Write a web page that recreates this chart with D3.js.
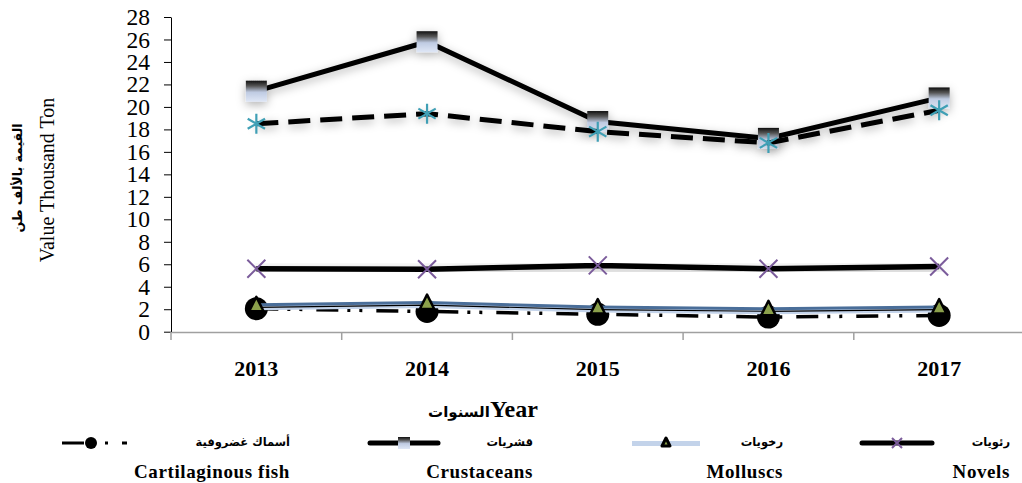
<!DOCTYPE html>
<html><head><meta charset="utf-8">
<script src="https://cdn.jsdelivr.net/npm/d3@7"></script>
<style>body{margin:0;background:#fff}svg{display:block}</style>
</head><body>
<script>
// ---- data ----
const years = ["2013", "2014", "2015", "2016", "2017"];
const yTicks = [0, 2, 4, 6, 8, 10, 12, 14, 16, 18, 20, 22, 24, 26, 28];
const crustaceans = [21.4, 25.8, 18.7, 17.2, 20.8];
const starSeries = [18.5, 19.4, 17.8, 16.8, 19.7];
const novels = [5.6, 5.55, 5.9, 5.6, 5.8];
const molluscs = [2.3, 2.5, 2.1, 1.95, 2.1];
const cartilaginous = [2.05, 1.8, 1.55, 1.3, 1.45];
const legendAr = ["أسماك غضروفية", "قشريات", "رخويات", "رئويات"];
const legendEn = ["Cartilaginous fish", "Crustaceans", "Molluscs", "Novels"];

const W = 1022, H = 483;
const svg = d3.select("body").append("svg").attr("width", W).attr("height", H);
const serif = "'Liberation Serif','DejaVu Serif',serif";
const arab = "'DejaVu Sans',sans-serif";

const defs = svg.append("defs");
const sq = defs.append("linearGradient").attr("id", "sqGrad").attr("x1", 0).attr("y1", 0).attr("x2", 0).attr("y2", 1);
sq.append("stop").attr("offset", "0%").attr("stop-color", "#111");
sq.append("stop").attr("offset", "25%").attr("stop-color", "#555");
sq.append("stop").attr("offset", "55%").attr("stop-color", "#bfcbe2");
sq.append("stop").attr("offset", "100%").attr("stop-color", "#dfe7f6");
const lg = defs.append("linearGradient").attr("id", "molGrad").attr("x1", 0).attr("y1", 0).attr("x2", 1).attr("y2", 0);
lg.append("stop").attr("offset", "0%").attr("stop-color", "#3d5f8c");
lg.append("stop").attr("offset", "50%").attr("stop-color", "#9fb5d6");
lg.append("stop").attr("offset", "100%").attr("stop-color", "#3d5f8c");
const f = defs.append("filter").attr("id", "shadow").attr("x", "-20%").attr("y", "-50%").attr("width", "140%").attr("height", "200%");
f.append("feDropShadow").attr("dx", 0).attr("dy", 3).attr("stdDeviation", 5).attr("flood-color", "#000").attr("flood-opacity", 0.3);

const x = d3.scaleBand().domain(years).range([171, 1024.5]);
const y = d3.scaleLinear().domain([0, 28]).range([331.7, 17]);
const cx = d => x(d) + x.bandwidth() / 2;

// y axis
const ya = svg.append("g").attr("transform", "translate(171,0)")
  .call(d3.axisLeft(y).tickValues(yTicks).tickSize(7).tickPadding(14).tickSizeOuter(0));
ya.select(".domain").attr("stroke", "#000");
ya.selectAll(".tick line").attr("stroke", "#000");
ya.selectAll("text").attr("font-family", serif).attr("font-size", 23.5).attr("fill", "#000");

// x axis
const xa = svg.append("g").attr("transform", "translate(0,332)")
  .call(d3.axisBottom(x).tickSize(0).tickPadding(28));
xa.select(".domain").attr("stroke", "#a0a0a0").attr("stroke-width", 1.5);
xa.selectAll("text").attr("font-family", serif).attr("font-size", 22).attr("font-weight", "bold").attr("fill", "#000");
svg.append("g").selectAll("line").data(years.concat(["end"])).join("line")
  .attr("x1", (d, i) => i < years.length ? x(d) : x.range()[1])
  .attr("x2", (d, i) => i < years.length ? x(d) : x.range()[1])
  .attr("y1", 332).attr("y2", 340).attr("stroke", "#a0a0a0").attr("stroke-width", 1.5);

// titles
const xt = svg.append("text").attr("x", 483).attr("y", 417).attr("text-anchor", "middle")
  .attr("font-weight", "bold").attr("direction", "ltr");
xt.append("tspan").attr("font-family", arab).attr("font-size", 15).text("السنوات");
xt.append("tspan").attr("font-family", serif).attr("font-size", 24).text("Year");
svg.append("text").attr("transform", "translate(22,178) rotate(-90)").attr("text-anchor", "middle")
  .attr("font-family", arab).attr("font-size", 12.5).attr("font-weight", "bold").text("القيمة بالألف طن");
svg.append("text").attr("transform", "translate(54,180) rotate(-90)").attr("text-anchor", "middle")
  .attr("font-family", serif).attr("font-size", 20).text("Value Thousand Ton");

const line = d3.line().x((d, i) => cx(years[i])).y(d => y(d));
const plot = svg.append("g");

// marker drawers
function circleM(g, px, py, r) { g.append("circle").attr("cx", px).attr("cy", py).attr("r", r).attr("fill", "#000"); }
function triM(g, px, py, s, sw) {
  g.append("path").attr("d", `M${px},${py - s}L${px + s * 0.8},${py + s * 0.6}L${px - s * 0.8},${py + s * 0.6}Z`)
    .attr("fill", "#8ba04b").attr("stroke", "#000").attr("stroke-width", sw).attr("stroke-linejoin", "round");
}
function xM(g, px, py, s, c) {
  g.append("path").attr("d", `M${px - s},${py - s}L${px + s},${py + s}M${px - s},${py + s}L${px + s},${py - s}`)
    .attr("stroke", c).attr("stroke-width", 2);
}
function starM(g, px, py, s) {
  const a = s * Math.cos(Math.PI / 6), b = s * Math.sin(Math.PI / 6);
  g.append("path").attr("d", `M${px},${py - s}L${px},${py + s}M${px - a},${py - b}L${px + a},${py + b}M${px - a},${py + b}L${px + a},${py - b}`)
    .attr("stroke", "#3f9fb5").attr("stroke-width", 2.2);
}
function sqM(g, px, py, s) {
  g.append("rect").attr("x", px - s / 2).attr("y", py - s / 2).attr("width", s).attr("height", s).attr("fill", "url(#sqGrad)");
}

// cartilaginous fish
plot.append("path").datum(cartilaginous).attr("d", line).attr("fill", "none")
  .attr("stroke", "#000").attr("stroke-width", 3.5).attr("stroke-dasharray", "22,9,3,9,3,14");
cartilaginous.forEach((v, i) => circleM(plot, cx(years[i]), y(v), 11.5));

// molluscs
plot.append("path").datum(molluscs).attr("d", line).attr("fill", "none")
  .attr("stroke", "#c3d3ea").attr("stroke-width", 6).attr("transform", "translate(0,1.5)");
plot.append("path").datum(molluscs).attr("d", line).attr("fill", "none")
  .attr("stroke", "#4a6e99").attr("stroke-width", 3).attr("transform", "translate(0,-1)");
plot.append("path").datum(molluscs).attr("d", line).attr("fill", "none")
  .attr("stroke", "#000").attr("stroke-width", 1.2).attr("transform", "translate(0,1.5)");
molluscs.forEach((v, i) => triM(plot, cx(years[i]), y(v), 9, 2.5));

// novels
const gN = plot.append("g").attr("filter", "url(#shadow)");
gN.append("path").datum(novels).attr("d", line).attr("fill", "none")
  .attr("stroke", "#000").attr("stroke-width", 5.5);
novels.forEach((v, i) => xM(plot, cx(years[i]), y(v), 9, "#7b5c9b"));

// crustaceans
const gC = plot.append("g").attr("filter", "url(#shadow)");
gC.append("path").datum(crustaceans).attr("d", line).attr("fill", "none")
  .attr("stroke", "#000").attr("stroke-width", 5);
crustaceans.forEach((v, i) => sqM(gC, cx(years[i]), y(v), 21));

// dashed star series
const gS = plot.append("g").attr("filter", "url(#shadow)");
gS.append("path").datum(starSeries).attr("d", line).attr("fill", "none")
  .attr("stroke", "#000").attr("stroke-width", 5).attr("stroke-dasharray", "22,10");
starSeries.forEach((v, i) => starM(plot, cx(years[i]), y(v), 10));

// legend
const legLine = [[62, 127], [370, 438], [632, 700], [862, 932]];
const legRight = [290, 533, 783, 1010];
const ly = 443;
const lgG = svg.append("g");
legendAr.forEach((t, i) => {
  lgG.append("text").attr("x", legRight[i]).attr("y", ly + 3).attr("text-anchor", "end")
    .attr("font-family", arab).attr("font-size", 11.5).attr("font-weight", "bold").text(t);
  lgG.append("text").attr("x", legRight[i]).attr("y", 478).attr("text-anchor", "end")
    .attr("font-family", serif).attr("font-size", 19).attr("letter-spacing", 0.6).attr("font-weight", "bold").text(legendEn[i]);
});
// sample 0: cartilaginous
let [a0, b0] = legLine[0];
lgG.append("line").attr("x1", a0).attr("x2", b0).attr("y1", ly).attr("y2", ly)
  .attr("stroke", "#000").attr("stroke-width", 3).attr("stroke-dasharray", "22,9,3,9,3,14");
circleM(lgG, a0 + 29, ly, 6);
// sample 1: crustaceans
[a0, b0] = legLine[1];
lgG.append("line").attr("x1", a0).attr("x2", b0).attr("y1", ly).attr("y2", ly)
  .attr("stroke", "#000").attr("stroke-width", 5).attr("stroke-linecap", "round");
sqM(lgG, (a0 + b0) / 2, ly, 12);
// sample 2: molluscs
[a0, b0] = legLine[2];
lgG.append("line").attr("x1", a0).attr("x2", b0).attr("y1", ly + 0.5).attr("y2", ly + 0.5)
  .attr("stroke", "#c3d3ea").attr("stroke-width", 5);
lgG.append("line").attr("x1", a0).attr("x2", b0).attr("y1", ly - 1).attr("y2", ly - 1)
  .attr("stroke", "url(#molGrad)").attr("stroke-width", 2.5);
triM(lgG, (a0 + b0) / 2, ly, 5, 3);
// sample 3: novels
[a0, b0] = legLine[3];
lgG.append("line").attr("x1", a0).attr("x2", b0).attr("y1", ly).attr("y2", ly)
  .attr("stroke", "#000").attr("stroke-width", 5).attr("stroke-linecap", "round");
xM(lgG, (a0 + b0) / 2, ly, 5, "#7b5c9b");
</script>
</body></html>
